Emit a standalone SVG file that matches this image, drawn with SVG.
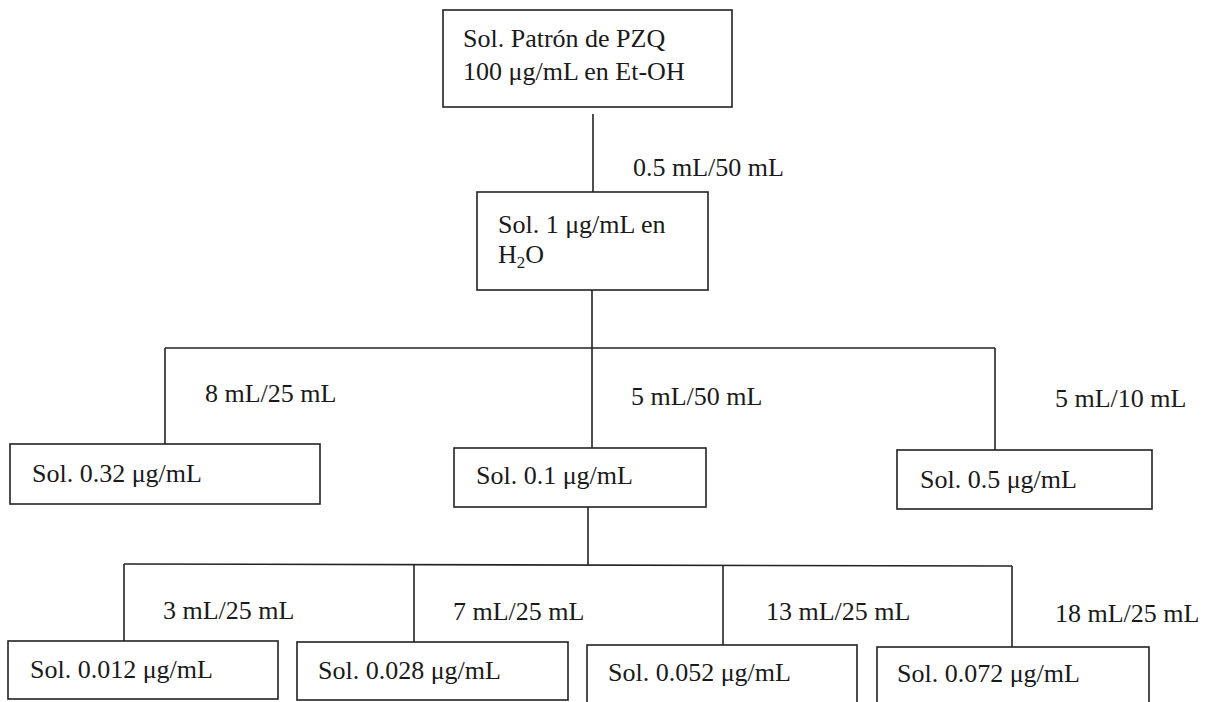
<svg xmlns="http://www.w3.org/2000/svg" width="1208" height="702" viewBox="0 0 1208 702">
<style>
.box{fill:#fff;stroke:#222;stroke-width:1.6}
.ln{fill:none;stroke:#222;stroke-width:1.6}
text{font-family:"Liberation Serif","Times New Roman",serif;font-size:26px;fill:#1a1a1a}
</style>
<rect width="1208" height="702" fill="#fff"/>
<g id="connectors">
<line class="ln" x1="593" y1="114" x2="593" y2="192"/>
<line class="ln" x1="592" y1="290" x2="592" y2="448"/>
<line class="ln" x1="165" y1="348" x2="995" y2="348"/>
<line class="ln" x1="165" y1="348" x2="165" y2="444"/>
<line class="ln" x1="995" y1="348" x2="995" y2="450"/>
<line class="ln" x1="588" y1="507" x2="588" y2="565"/>
<line class="ln" x1="124" y1="564" x2="1012" y2="566"/>
<line class="ln" x1="124" y1="564" x2="124" y2="641"/>
<line class="ln" x1="414" y1="565" x2="414" y2="642"/>
<line class="ln" x1="723" y1="565" x2="723" y2="645"/>
<line class="ln" x1="1012" y1="566" x2="1012" y2="647"/>
<text x="633" y="176">0.5 mL/50 mL</text>
<text x="205" y="402">8 mL/25 mL</text>
<text x="631" y="405">5 mL/50 mL</text>
<text x="1055" y="407">5 mL/10 mL</text>
<text x="163" y="619">3 mL/25 mL</text>
<text x="453" y="620">7 mL/25 mL</text>
<text x="766" y="620">13 mL/25 mL</text>
<text x="1055" y="622">18 mL/25 mL</text>
</g>
<g id="n-patron">
<rect class="box" x="443" y="10" width="289" height="97"/>
<text x="463" y="47">Sol. Patrón de PZQ</text>
<text x="463" y="80">100 μg/mL en Et-OH</text>
</g>
<g id="n-1">
<rect class="box" x="477" y="192" width="231" height="98"/>
<text x="498" y="233">Sol. 1 μg/mL en</text>
<text x="498" y="263">H<tspan font-size="17" dy="5">2</tspan><tspan dy="-5">O</tspan></text>
</g>
<g id="n-032">
<rect class="box" x="10" y="444" width="310" height="60"/>
<text x="32" y="482">Sol. 0.32 μg/mL</text>
</g>
<g id="n-01">
<rect class="box" x="454" y="448" width="252" height="59"/>
<text x="476" y="484">Sol. 0.1 μg/mL</text>
</g>
<g id="n-05">
<rect class="box" x="897" y="450" width="255" height="59"/>
<text x="920" y="488">Sol. 0.5 μg/mL</text>
</g>
<g id="n-0012">
<rect class="box" x="8" y="641" width="270" height="58"/>
<text x="30" y="678">Sol. 0.012 μg/mL</text>
</g>
<g id="n-0028">
<rect class="box" x="297" y="642" width="271" height="58"/>
<text x="318" y="679">Sol. 0.028 μg/mL</text>
</g>
<g id="n-0052">
<rect class="box" x="587" y="645" width="270" height="62"/>
<text x="608" y="681">Sol. 0.052 μg/mL</text>
</g>
<g id="n-0072">
<rect class="box" x="877" y="647" width="272" height="62"/>
<text x="897" y="682">Sol. 0.072 μg/mL</text>
</g>
</svg>
